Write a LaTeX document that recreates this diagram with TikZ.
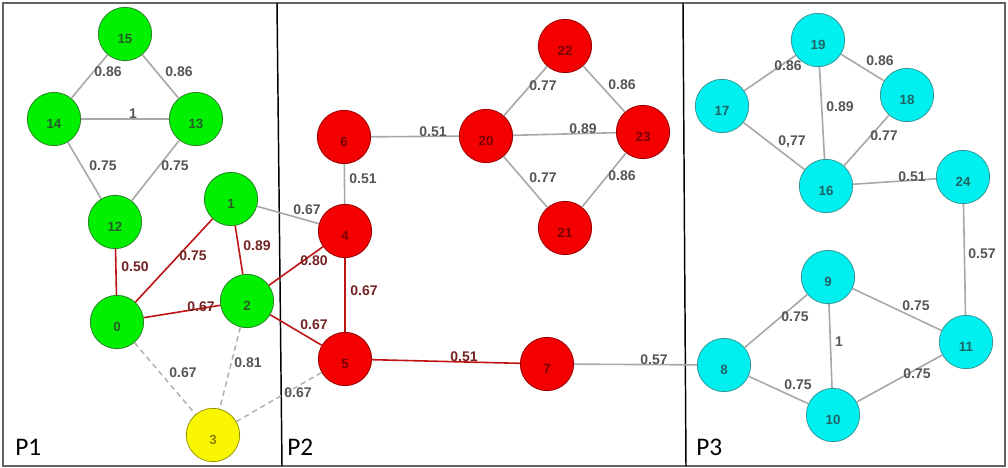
\documentclass[tikz,border=0pt]{standalone}
\usepackage{fontspec}
\setmainfont{Liberation Sans}
\newfontfamily\panelfont{Carlito}
\begin{document}
\begin{tikzpicture}[x=0.75pt,y=-0.75pt,
  vnode/.style={circle,minimum size=40pt,inner sep=0pt,line width=0.6pt},
  gnode/.style={vnode,fill={rgb,255:red,0;green,240;blue,0},draw={rgb,255:red,40;green,130;blue,40}},
  rnode/.style={vnode,fill={rgb,255:red,245;green,0;blue,0},draw={rgb,255:red,150;green,0;blue,0}},
  cnode/.style={vnode,fill={rgb,255:red,0;green,240;blue,240},draw={rgb,255:red,50;green,150;blue,150}},
  ynode/.style={vnode,fill={rgb,255:red,250;green,245;blue,0},draw={rgb,255:red,150;green,150;blue,0}},
  gtxt/.style={font=\bfseries\fontsize{10}{12}\selectfont,text={rgb,255:red,40;green,90;blue,40},yshift=-3.5pt},
  rtxt/.style={font=\bfseries\fontsize{10}{12}\selectfont,text={rgb,255:red,120;green,0;blue,0},yshift=-3.5pt},
  ctxt/.style={font=\bfseries\fontsize{10}{12}\selectfont,text={rgb,255:red,30;green,100;blue,100},yshift=-3.5pt},
  ytxt/.style={font=\bfseries\fontsize{10}{12}\selectfont,text={rgb,255:red,140;green,130;blue,0},yshift=-3.5pt},
  gedge/.style={draw={rgb,255:red,168;green,168;blue,168},line width=1.2pt},
  redge/.style={draw={rgb,255:red,190;green,20;blue,20},line width=1.2pt},
  dedge/.style={draw={rgb,255:red,175;green,175;blue,175},line width=1.1pt,dash pattern=on 4pt off 3pt},
  glbl/.style={font=\bfseries\fontsize{10.5}{12}\selectfont,text={rgb,255:red,85;green,85;blue,85},inner sep=0pt},
  rlbl/.style={font=\bfseries\fontsize{10.5}{12}\selectfont,text={rgb,255:red,115;green,35;blue,35},inner sep=0pt},
  plbl/.style={font=\panelfont\fontsize{19}{22}\selectfont,inner sep=0pt,anchor=base west},
  divider/.style={draw=black,line width=1.1pt}
]
\useasboundingbox (0,0) rectangle (1008,468);
\draw[draw={rgb,255:red,100;green,100;blue,100},line width=0.9pt] (3,3) rectangle (1005,466);
\coordinate (d1t) at (277,3); \coordinate (d1b) at (282,466);
\coordinate (d2t) at (683,3); \coordinate (d2b) at (686,466);
\draw[divider] (d1t) -- (d1b);
\draw[divider] (d2t) -- (d2b);

% P1
\node[gnode,label={[gtxt]center:15}] (n15) at (125,34) {};
\node[gnode,label={[gtxt]center:14}] (n14) at (54,119) {};
\node[gnode,label={[gtxt]center:13}] (n13) at (196,119) {};
\node[gnode,label={[gtxt]center:12}] (n12) at (115,222) {};
\node[gnode,label={[gtxt]center:1}] (n1) at (231,199) {};
\node[gnode,label={[gtxt]center:0}] (n0) at (117,322) {};
\node[gnode,label={[gtxt]center:2}] (n2) at (247,301) {};
\node[ynode,label={[ytxt]center:3}] (n3) at (213,435) {};
% P2
\node[rnode,label={[rtxt]center:4}] (n4) at (345,231) {};
\node[rnode,label={[rtxt]center:5}] (n5) at (345,359) {};
\node[rnode,label={[rtxt]center:6}] (n6) at (344,137) {};
\node[rnode,label={[rtxt]center:7}] (n7) at (547,364) {};
\node[rnode,label={[rtxt]center:20}] (n20) at (486,136) {};
\node[rnode,label={[rtxt]center:21}] (n21) at (565,228) {};
\node[rnode,label={[rtxt]center:22}] (n22) at (565,46) {};
\node[rnode,label={[rtxt]center:23}] (n23) at (643,132) {};
% P3
\node[cnode,label={[ctxt]center:19}] (n19) at (818,40) {};
\node[cnode,label={[ctxt]center:17}] (n17) at (722,106) {};
\node[cnode,label={[ctxt]center:18}] (n18) at (907,95) {};
\node[cnode,label={[ctxt]center:16}] (n16) at (826,186) {};
\node[cnode,label={[ctxt]center:24}] (n24) at (963,177) {};
\node[cnode,label={[ctxt]center:9}] (n9) at (828,277) {};
\node[cnode,label={[ctxt]center:8}] (n8) at (724,365) {};
\node[cnode,label={[ctxt]center:11}] (n11) at (966,342) {};
\node[cnode,label={[ctxt]center:10}] (n10) at (833,415) {};

% edges
\draw[gedge] (n15) -- (n14);
\draw[gedge] (n15) -- (n13);
\draw[gedge] (n14) -- (n13);
\draw[gedge] (n14) -- (n12);
\draw[gedge] (n13) -- (n12);
\draw[redge] (n12) -- (n0);
\draw[redge] (n0) -- (n1);
\draw[redge] (n1) -- (n2);
\draw[redge] (n0) -- (n2);
\draw[redge] (n2) -- (n4);
\draw[redge] (n2) -- (n5);
\draw[redge] (n4) -- (n5);
\draw[redge] (n5) -- (n7);
\draw[gedge] (n1) -- (n4);
\draw[gedge] (n6) -- (n4);
\draw[gedge] (n6) -- (n20);
\draw[gedge] (n20) -- (n22);
\draw[gedge] (n22) -- (n23);
\draw[gedge] (n20) -- (n23);
\draw[gedge] (n20) -- (n21);
\draw[gedge] (n21) -- (n23);
\draw[gedge] (n7) -- (n8);
\draw[gedge] (n19) -- (n17);
\draw[gedge] (n19) -- (n18);
\draw[gedge] (n19) -- (n16);
\draw[gedge] (n17) -- (n16);
\draw[gedge] (n18) -- (n16);
\draw[gedge] (n16) -- (n24);
\draw[gedge] (n24) -- (n11);
\draw[gedge] (n9) -- (n8);
\draw[gedge] (n9) -- (n11);
\draw[gedge] (n9) -- (n10);
\draw[gedge] (n8) -- (n10);
\draw[gedge] (n10) -- (n11);
\draw[dedge] (n0) -- (n3);
\draw[dedge] (n2) -- (n3);
\draw[dedge] (n5) -- (n3);

% edge labels
\node[glbl] (l1514) at (108,72) {0.86};
\node[glbl] (l1513) at (179,72) {0.86};
\node[glbl] (l1413) at (133,114) {1};
\node[glbl] (l1412) at (103,166) {0.75};
\node[glbl] (l1312) at (175,166) {0.75};
\node[rlbl] (l120) at (135,267) {0.50};
\node[rlbl] (l01) at (193,256) {0.75};
\node[rlbl] (l12) at (257,246) {0.89};
\node[rlbl] (l02) at (201,307) {0.67};
\node[rlbl] (l24) at (314,261) {0.80};
\node[rlbl] (l25) at (314,325) {0.67};
\node[glbl] (l14) at (307,210) {0.67};
\node[glbl] (l03) at (183,373) {0.67};
\node[glbl] (l23) at (248,363) {0.81};
\node[glbl] (l53) at (298,393) {0.67};
\node[glbl] (l64) at (363,179) {0.51};
\node[glbl] (l620) at (433,132) {0.51};
\node[glbl] (l2022) at (543,86) {0.77};
\node[glbl] (l2223) at (622,85) {0.86};
\node[glbl] (l2023) at (583,129) {0.89};
\node[glbl] (l2021) at (543,178) {0.77};
\node[glbl] (l2123) at (622,176) {0.86};
\node[rlbl] (l45) at (364,291) {0.67};
\node[rlbl] (l57) at (464,357) {0.51};
\node[glbl] (l78) at (654,360) {0.57};
\node[glbl] (l1917) at (788,66) {0.86};
\node[glbl] (l1918) at (880,61) {0.86};
\node[glbl] (l1916) at (840,107) {0.89};
\node[glbl] (l1716) at (792,142) {0,77};
\node[glbl] (l1816) at (884,136) {0.77};
\node[glbl] (l1624) at (912,177) {0.51};
\node[glbl] (l2411) at (982,254) {0.57};
\node[glbl] (l98) at (795,317) {0.75};
\node[glbl] (l911) at (916,306) {0.75};
\node[glbl] (l910) at (839,342) {1};
\node[glbl] (l810) at (798,385) {0.75};
\node[glbl] (l1011) at (917,374) {0.75};

% panel labels
\node[plbl] (p1) at (15,455) {P1};
\node[plbl] (p2) at (287,455) {P2};
\node[plbl] (p3) at (696,455) {P3};
\end{tikzpicture}
\end{document}
